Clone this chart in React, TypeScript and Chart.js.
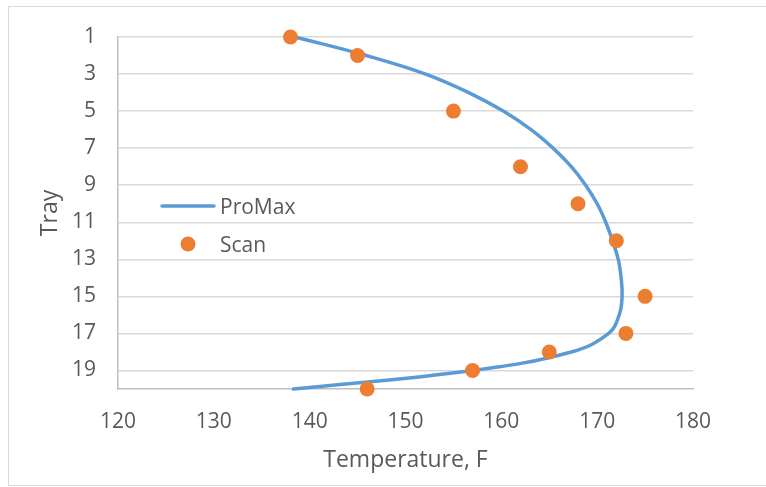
import React, { useEffect, useRef } from "react";
import { Chart, registerables } from "chart.js";

Chart.register(...registerables);

// Simulated (ProMax) temperature profile, one value per tray
const promaxTrays = [1, 2, 3, 4, 5, 6, 7, 8, 9, 10, 11, 12, 13, 14, 15, 16, 17, 18, 19, 20];
const promaxTemps = [138.5, 145.9, 152.1, 156.6, 160.2, 163.1, 165.4, 167.3, 168.8, 170.0, 170.9, 171.6, 172.2, 172.5, 172.6, 172.3, 171.2, 167.3, 157.0, 138.3];

// Measured (Scan) temperatures
const scanTrays = [1, 2, 5, 8, 10, 12, 15, 17, 18, 19, 20];
const scanTemps = [138, 145, 155, 162, 168, 172, 175, 173, 165, 157, 146];

// Axis ticks
const trayTicks = [1, 3, 5, 7, 9, 11, 13, 15, 17, 19];
const tempTicks = [120, 130, 140, 150, 160, 170, 180];

const seriesNames = ["ProMax", "Scan"];
const axisTitles = { x: "Temperature, F", y: "Tray" };

const FONT = "'Open Sans', 'DejaVu Sans', sans-serif";
const BLUE = "#5B9BD5";
const ORANGE = "#ED7D31";
const TEXT = "#595959";

const decorPlugin = {
  id: "decor",
  beforeDraw(chart: any) {
    const { ctx, width, height } = chart;
    ctx.save();
    ctx.fillStyle = "#ffffff";
    ctx.fillRect(0, 0, width, height);
    ctx.strokeStyle = "#D9D9D9";
    ctx.lineWidth = 1;
    ctx.strokeRect(8.5, 6.5, width + 20, 479);
    ctx.restore();
  },
  afterDraw(chart: any) {
    const { ctx, chartArea } = chart;
    ctx.save();
    ctx.fillStyle = TEXT;
    ctx.textBaseline = "alphabetic";

    // axis titles
    ctx.font = `23px ${FONT}`;
    ctx.textAlign = "center";
    ctx.fillText(axisTitles.x, (chartArea.left + chartArea.right) / 2, 467);

    ctx.save();
    ctx.translate(56.5, (chartArea.top + chartArea.bottom) / 2);
    ctx.rotate(-Math.PI / 2);
    ctx.fillText(axisTitles.y, 0, 0);
    ctx.restore();

    // legend inside the plot
    ctx.font = `21px ${FONT}`;
    ctx.textAlign = "left";
    ctx.strokeStyle = BLUE;
    ctx.lineWidth = 3.5;
    ctx.lineCap = "round";
    ctx.beginPath();
    ctx.moveTo(162, 206);
    ctx.lineTo(214, 206);
    ctx.stroke();
    ctx.fillStyle = TEXT;
    ctx.fillText(seriesNames[0], 220, 213.5);

    ctx.fillStyle = ORANGE;
    ctx.beginPath();
    ctx.arc(188, 244, 7.5, 0, Math.PI * 2);
    ctx.fill();
    ctx.fillStyle = TEXT;
    ctx.fillText(seriesNames[1], 220, 251.5);
    ctx.restore();
  },
};

export default function App() {
  const canvasRef = useRef<HTMLCanvasElement | null>(null);

  useEffect(() => {
    const canvas = canvasRef.current;
    if (!canvas) return;
    const chart = new Chart(canvas, {
      type: "scatter",
      data: {
        datasets: [
          {
            label: seriesNames[0],
            data: promaxTrays.map((t, i) => ({ x: promaxTemps[i], y: t })),
            showLine: true,
            borderColor: BLUE,
            backgroundColor: BLUE,
            borderWidth: 3.5,
            borderCapStyle: "round",
            pointRadius: 0,
            tension: 0.4,
            order: 1,
            clip: false as any,
          },
          {
            label: seriesNames[1],
            data: scanTrays.map((t, i) => ({ x: scanTemps[i], y: t })),
            showLine: false,
            backgroundColor: ORANGE,
            borderColor: ORANGE,
            borderWidth: 0,
            pointRadius: 7.5,
            order: 0,
            clip: false as any,
          },
        ],
      },
      options: {
        responsive: false,
        animation: false,
        devicePixelRatio: 1,
        layout: { padding: { left: 0, right: 73, top: 37, bottom: 0 } },
        plugins: {
          legend: { display: false },
          tooltip: { enabled: false },
        },
        scales: {
          x: {
            type: "linear",
            min: 120,
            max: 180,
            afterBuildTicks: (scale: any) => {
              scale.ticks = tempTicks.map((v) => ({ value: v }));
            },
            afterFit: (scale: any) => {
              scale.height = 98;
            },
            grid: { display: false, drawTicks: false },
            border: { display: true, color: "#BFBFBF", width: 1.5 },
            ticks: {
              color: TEXT,
              font: { family: FONT, size: 21 },
              padding: 20,
              maxRotation: 0,
            },
          },
          y: {
            type: "linear",
            reverse: true,
            min: 1,
            max: 20,
            afterBuildTicks: (scale: any) => {
              scale.ticks = trayTicks.map((v) => ({ value: v }));
            },
            afterFit: (scale: any) => {
              scale.width = 118;
            },
            grid: { color: "#D9D9D9", lineWidth: 1.5, drawTicks: false },
            border: { display: true, color: "#BFBFBF", width: 1.5 },
            ticks: {
              color: TEXT,
              font: { family: FONT, size: 21 },
              padding: 22,
            },
          },
        },
      },
      plugins: [decorPlugin],
    });
    return () => chart.destroy();
  }, []);

  return (
    <div style={{ position: "fixed", left: 0, top: 0, width: 766, height: 487, background: "#fff" }}>
      <canvas ref={canvasRef} width={766} height={487} style={{ display: "block" }} />
    </div>
  );
}
